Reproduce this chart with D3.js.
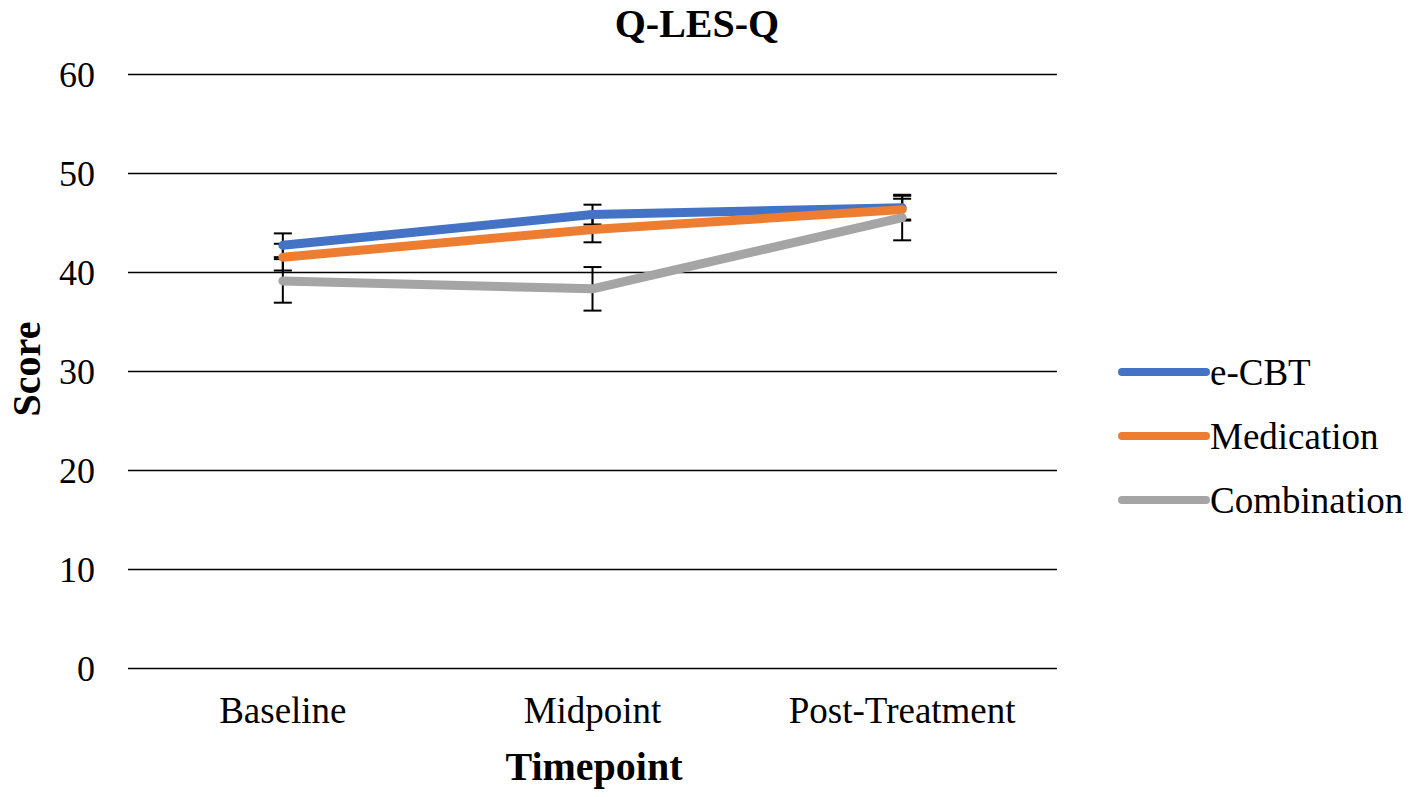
<!DOCTYPE html>
<html>
<head>
<meta charset="utf-8">
<script src="https://cdn.jsdelivr.net/npm/d3@7"></script>
<style>
  html, body { margin: 0; padding: 0; background: #fff; }
  text { font-family: "Liberation Serif", "Times New Roman", serif; fill: #000; }
</style>
</head>
<body>
<div class="container"></div>
<script>
const WIDTH = 1417
const HEIGHT = 797

// data
const timepoints = ['Baseline', 'Midpoint', 'Post-Treatment']
const groups = ['e-CBT', 'Medication', 'Combination']
const ecbt = [42.7, 45.8, 46.5]
const ecbtErr = [1.2, 1.0, 1.2]
const medication = [41.5, 44.3, 46.3]
const medicationErr = [1.35, 1.3, 1.1]
const combination = [39.1, 38.3, 45.5]
const combinationErr = [2.2, 2.2, 2.3]
const yTicks = [0, 10, 20, 30, 40, 50, 60]

const COLORS = ['#4472c4', '#ed7d31', '#a5a5a5']

const series = [
  { name: groups[0], values: ecbt, err: ecbtErr, color: COLORS[0] },
  { name: groups[1], values: medication, err: medicationErr, color: COLORS[1] },
  { name: groups[2], values: combination, err: combinationErr, color: COLORS[2] }
]

const margin = { top: 74, left: 128, right: WIDTH - 1057, bottom: HEIGHT - 668 }

const svg = d3.select('.container')
  .append('svg')
  .attr('xmlns', 'http://www.w3.org/2000/svg')
  .attr('width', WIDTH)
  .attr('height', HEIGHT)

const x = d3.scaleBand()
  .domain(timepoints)
  .range([margin.left, WIDTH - margin.right])

const y = d3.scaleLinear()
  .domain([0, 60])
  .range([HEIGHT - margin.bottom, margin.top])

// gridlines + tick labels
const yAxis = svg.append('g')
  .attr('transform', `translate(${margin.left},0)`)
  .call(d3.axisLeft(y).tickValues(yTicks).tickSize(-(WIDTH - margin.left - margin.right)).tickPadding(33))
yAxis.select('.domain').remove()
yAxis.selectAll('line').attr('stroke', '#000').attr('stroke-width', 1.6)
yAxis.selectAll('text')
  .attr('font-size', 36)
  .attr('font-family', '"Liberation Serif", serif')
  .attr('fill', '#000')
  .attr('dy', '0.34em')

const xAxis = svg.append('g')
  .attr('transform', `translate(0,${HEIGHT - margin.bottom})`)
  .call(d3.axisBottom(x).tickSize(0).tickPadding(0))
xAxis.select('.domain').remove()
xAxis.selectAll('text')
  .attr('font-size', 37)
  .attr('font-family', '"Liberation Serif", serif')
  .attr('fill', '#000')
  .attr('dy', null)
  .attr('y', 55)

const cx = d => x(d) + x.bandwidth() / 2

// error bars
series.forEach(s => {
  const g = svg.append('g').attr('stroke', '#000').attr('stroke-width', 2)
  timepoints.forEach((t, i) => {
    const lo = y(s.values[i] - s.err[i])
    const hi = y(s.values[i] + s.err[i])
    g.append('line').attr('x1', cx(t)).attr('x2', cx(t)).attr('y1', lo).attr('y2', hi)
    g.append('line').attr('x1', cx(t) - 9).attr('x2', cx(t) + 9).attr('y1', lo).attr('y2', lo)
    g.append('line').attr('x1', cx(t) - 9).attr('x2', cx(t) + 9).attr('y1', hi).attr('y2', hi)
  })
})

const line = d3.line()
  .x((d, i) => cx(timepoints[i]))
  .y(d => y(d))

svg.selectAll('path.series')
  .data(series)
  .join('path')
  .attr('class', 'series')
  .attr('d', d => line(d.values))
  .attr('fill', 'none')
  .attr('stroke', d => d.color)
  .attr('stroke-width', 9)
  .attr('stroke-linecap', 'round')
  .attr('stroke-linejoin', 'round')

// legend
const legend = svg.append('g')
legend.selectAll('g')
  .data(series)
  .join('g')
  .attr('transform', (d, i) => `translate(1122,${372 + i * 64})`)
  .each(function (d) {
    const g = d3.select(this)
    g.append('line').attr('x1', 0).attr('x2', 84).attr('y1', 0).attr('y2', 0)
      .attr('stroke', d.color).attr('stroke-width', 8).attr('stroke-linecap', 'round')
    g.append('text').attr('x', 88).attr('y', 0).attr('dy', '0.34em')
      .attr('font-size', 37).text(d.name)
  })

// titles
svg.append('text')
  .attr('x', 697).attr('y', 37)
  .attr('text-anchor', 'middle')
  .attr('font-weight', 'bold')
  .attr('font-size', 40)
  .text('Q-LES-Q')

svg.append('text')
  .attr('x', 594).attr('y', 780)
  .attr('text-anchor', 'middle')
  .attr('font-weight', 'bold')
  .attr('font-size', 40)
  .text('Timepoint')

svg.append('text')
  .attr('transform', 'translate(40,369) rotate(-90)')
  .attr('text-anchor', 'middle')
  .attr('font-weight', 'bold')
  .attr('font-size', 40)
  .text('Score')
</script>
</body>
</html>
